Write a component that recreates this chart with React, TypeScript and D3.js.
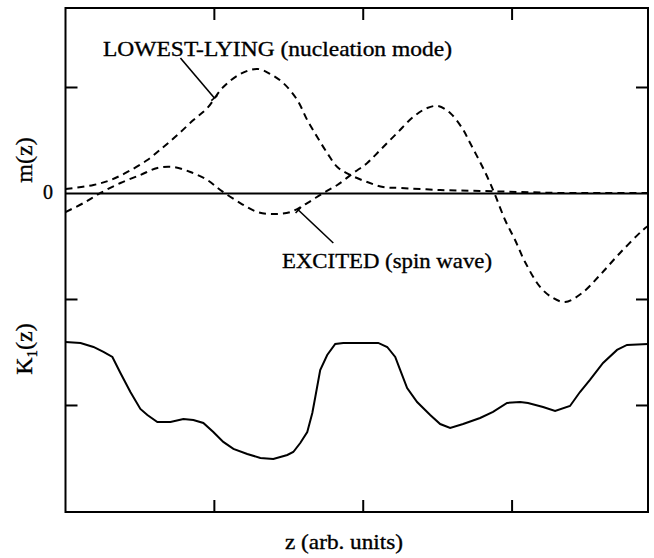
import * as d3 from "d3";

// z positions (arb. units) and m(z) / K1(z) values
const lowestZ = [0, 0.188, 0.302, 0.416, 0.55, 0.658, 0.752, 0.859, 0.953, 1.06, 1.174, 1.289, 1.376, 1.463, 1.557, 1.624, 1.691, 1.758, 1.826, 1.913, 2.027, 2.134, 2.248, 2.517, 2.785, 3.054, 3.322, 3.591, 3.913];
const lowestM = [0.042, 0.08, 0.127, 0.203, 0.316, 0.439, 0.552, 0.693, 0.807, 1.005, 1.127, 1.175, 1.127, 1.042, 0.882, 0.693, 0.533, 0.382, 0.25, 0.175, 0.108, 0.061, 0.052, 0.033, 0.024, 0.014, 0.005, 0.005, 0.005];

const excitedZ = [0, 0.121, 0.235, 0.369, 0.503, 0.617, 0.725, 0.839, 0.953, 1.04, 1.174, 1.289, 1.396, 1.51, 1.624, 1.732, 1.826, 1.933, 2.027, 2.114, 2.228, 2.336, 2.43, 2.503, 2.584, 2.664, 2.718, 2.805, 2.852, 2.886, 2.953, 3.02, 3.087, 3.188, 3.275, 3.356, 3.47, 3.591, 3.725, 3.879, 3.913];
const excitedM = [-0.175, -0.09, 0.005, 0.099, 0.175, 0.241, 0.25, 0.203, 0.127, 0.033, -0.09, -0.175, -0.193, -0.175, -0.09, 0.005, 0.08, 0.193, 0.288, 0.41, 0.571, 0.722, 0.807, 0.825, 0.759, 0.618, 0.476, 0.241, 0.099, -0.014, -0.25, -0.439, -0.646, -0.882, -0.986, -1.024, -0.939, -0.769, -0.561, -0.344, -0.307];

const k1Z = [0, 0.101, 0.188, 0.255, 0.315, 0.369, 0.436, 0.503, 0.55, 0.617, 0.705, 0.792, 0.859, 0.926, 0.993, 1.06, 1.128, 1.221, 1.309, 1.396, 1.49, 1.53, 1.577, 1.624, 1.658, 1.678, 1.711, 1.758, 1.812, 1.866, 1.98, 2.101, 2.161, 2.215, 2.248, 2.295, 2.362, 2.45, 2.517, 2.584, 2.671, 2.785, 2.872, 2.966, 3.054, 3.107, 3.208, 3.289, 3.389, 3.456, 3.523, 3.611, 3.705, 3.772, 3.913];
const k1V = [-1.401, -1.41, -1.448, -1.495, -1.542, -1.693, -1.873, -2.033, -2.09, -2.156, -2.156, -2.127, -2.137, -2.165, -2.25, -2.344, -2.41, -2.458, -2.495, -2.505, -2.467, -2.439, -2.354, -2.25, -2.071, -1.92, -1.665, -1.524, -1.42, -1.41, -1.41, -1.41, -1.448, -1.542, -1.665, -1.835, -1.967, -2.09, -2.175, -2.212, -2.175, -2.118, -2.061, -1.976, -1.967, -1.976, -2.014, -2.052, -2.005, -1.873, -1.759, -1.599, -1.476, -1.429, -1.42];

const xTicks = [1, 2, 3];
const yTicks = [1, -1, -2];

// annotation leaders: [z0, m0, z1, m1], crossbar at the second point
const lowestLeader = [0.772, 1.278, 1.0, 0.901];
const excitedLeader = [1.799, -0.467, 1.564, -0.156];

export default function App() {
  const W = 654;
  const H = 558;
  const left = 65.5, right = 648, top = 8, bottom = 512;
  const x = d3.scaleLinear().domain([0, 3.913]).range([left, right]);
  const y = d3.scaleLinear().domain([-3.005, 1.75]).range([bottom, top]);

  const curveOf = (zs: number[], smooth: boolean) => {
    const l = d3
      .line<number>()
      .x((_, i) => x(zs[i]))
      .y((d) => y(d));
    if (smooth) l.curve(d3.curveCatmullRom);
    return l;
  };

  const lowestPath = curveOf(lowestZ, true)(lowestM);
  const excitedPath = curveOf(excitedZ, true)(excitedM);
  const k1Path = curveOf(k1Z, false)(k1V);

  const leader = (l: number[]) => {
    const x0 = x(l[0]), y0 = y(l[1]), x1 = x(l[2]), y1 = y(l[3]);
    const len = Math.hypot(x1 - x0, y1 - y0);
    const nx = -(y1 - y0) / len, ny = (x1 - x0) / len;
    return (
      <g stroke="#000" strokeWidth={1.6}>
        <line x1={x0} y1={y0} x2={x1} y2={y1} />
        <line x1={x1 - nx * 4} y1={y1 - ny * 4} x2={x1 + nx * 4} y2={y1 + ny * 4} />
      </g>
    );
  };

  const font = "'Liberation Serif', 'Times New Roman', serif";

  return (
    <svg width={W} height={H} style={{ position: "absolute", left: 0, top: 0, background: "#fff" }} fontFamily={font}>
      <rect x={0} y={0} width={W} height={H} fill="#fff" />
      {/* ticks */}
      <g stroke="#000" strokeWidth={2}>
        {xTicks.map((t) => (
          <g key={"x" + t}>
            <line x1={x(t)} x2={x(t)} y1={bottom} y2={bottom - 12} />
            <line x1={x(t)} x2={x(t)} y1={top} y2={top + 12} />
          </g>
        ))}
        {yTicks.map((t) => (
          <g key={"y" + t}>
            <line x1={left} x2={left + 12} y1={y(t)} y2={y(t)} />
            <line x1={right} x2={right - 12} y1={y(t)} y2={y(t)} />
          </g>
        ))}
      </g>
      {/* zero line */}
      <line x1={left} x2={right} y1={y(0)} y2={y(0)} stroke="#000" strokeWidth={2} />
      {/* curves */}
      <path d={lowestPath ?? ""} fill="none" stroke="#000" strokeWidth={2} strokeDasharray="7 5" />
      <path d={excitedPath ?? ""} fill="none" stroke="#000" strokeWidth={2} strokeDasharray="7 5" />
      <path d={k1Path ?? ""} fill="none" stroke="#000" strokeWidth={2} />
      {/* frame */}
      <rect x={left} y={top} width={right - left} height={bottom - top} fill="none" stroke="#000" strokeWidth={2} />
      {/* annotations */}
      {leader(lowestLeader)}
      {leader(excitedLeader)}
      <g stroke="#000" strokeWidth={0.35}>
        <text x={103} y={56} fontSize={22} textLength={349} lengthAdjust="spacingAndGlyphs">
          LOWEST-LYING (nucleation mode)
        </text>
        <text x={282} y={268} fontSize={22} textLength={210} lengthAdjust="spacingAndGlyphs">
          EXCITED (spin wave)
        </text>
        {/* axis labels */}
        <text x={48} y={y(0) + 6} fontSize={20} textAnchor="middle">0</text>
        <text transform="translate(32,160) rotate(-90)" fontSize={24} textAnchor="middle">m(z)</text>
        <text transform="translate(32,349) rotate(-90)" fontSize={24} textAnchor="middle">
          K<tspan fontSize={15} dy={5}>1</tspan>
          <tspan dy={-5}>(z)</tspan>
        </text>
        <text x={344} y={549} fontSize={22} textAnchor="middle" textLength={118} lengthAdjust="spacingAndGlyphs">
          z (arb. units)
        </text>
      </g>
    </svg>
  );
}
